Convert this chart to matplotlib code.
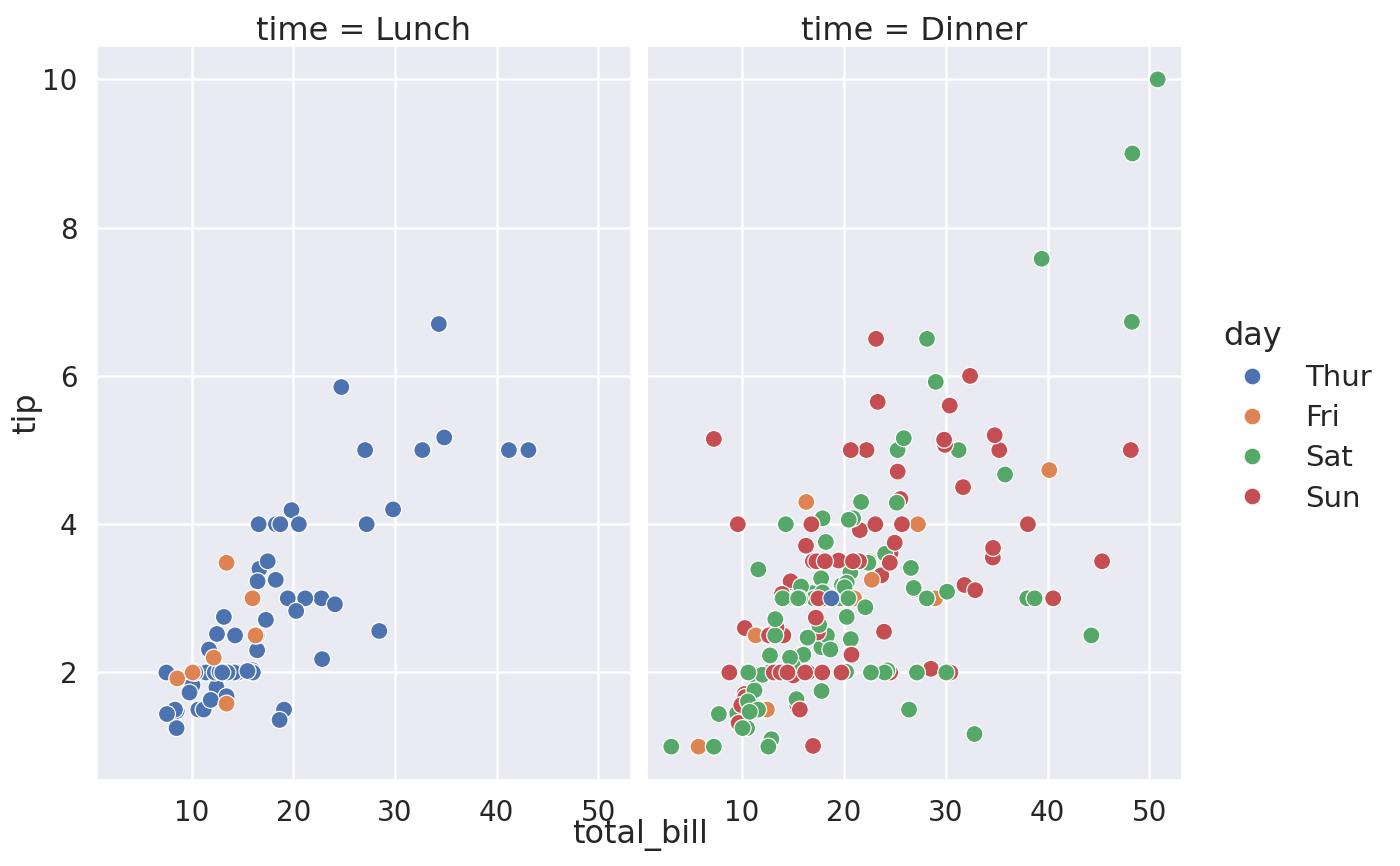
import matplotlib
matplotlib.use('Agg')
import matplotlib.pyplot as plt
from matplotlib.lines import Line2D
import seaborn as sns

# tips data, in row order (draw order matters for overlap)
total_bill = [
    16.99, 10.34, 21.01, 23.68, 24.59, 25.29, 8.77, 26.88, 15.04, 14.78,
    10.27, 35.26, 15.42, 18.43, 14.83, 21.58, 10.33, 16.29, 16.97, 20.65,
    17.92, 20.29, 15.77, 39.42, 19.82, 17.81, 13.37, 12.69, 21.70, 19.65,
    9.55, 18.35, 15.06, 20.69, 17.78, 24.06, 16.31, 16.93, 18.69, 31.27,
    16.04, 17.46, 13.94, 9.68, 30.40, 18.29, 22.23, 32.40, 28.55, 18.04,
    12.54, 10.29, 34.81, 9.94, 25.56, 19.49, 38.01, 26.41, 11.24, 48.27,
    20.29, 13.81, 11.02, 18.29, 17.59, 20.08, 16.45, 3.07, 20.23, 15.01,
    12.02, 17.07, 26.86, 25.28, 14.73, 10.51, 17.92, 27.20, 22.76, 17.29,
    19.44, 16.66, 10.07, 32.68, 15.98, 34.83, 13.03, 18.28, 24.71, 21.16,
    28.97, 22.49, 5.75, 16.32, 22.75, 40.17, 27.28, 12.03, 21.01, 12.46,
    11.35, 15.38, 44.30, 22.42, 20.92, 15.36, 20.49, 25.21, 18.24, 14.31,
    14.00, 7.25, 38.07, 23.95, 25.71, 17.31, 29.93, 10.65, 12.43, 24.08,
    11.69, 13.42, 14.26, 15.95, 12.48, 29.80, 8.52, 14.52, 11.38, 22.82,
    19.08, 20.27, 11.17, 12.26, 18.26, 8.51, 10.33, 14.15, 16.00, 13.16,
    17.47, 34.30, 41.19, 27.05, 16.43, 8.35, 18.64, 11.87, 9.78, 7.51,
    14.07, 13.13, 17.26, 24.55, 19.77, 29.85, 48.17, 25.00, 13.39, 16.49,
    21.50, 12.66, 16.21, 13.81, 17.51, 24.52, 20.76, 31.71, 10.59, 10.63,
    50.81, 15.81, 7.25, 31.85, 16.82, 32.90, 17.89, 14.48, 9.60, 34.63,
    34.65, 23.33, 45.35, 23.17, 40.55, 20.69, 20.90, 30.46, 18.15, 23.10,
    15.69, 19.81, 28.44, 15.48, 16.58, 7.56, 10.34, 43.11, 13.00, 13.51,
    18.71, 12.74, 13.00, 16.40, 20.53, 16.47, 26.59, 38.73, 24.27, 12.76,
    30.06, 25.89, 48.33, 13.27, 28.17, 12.90, 28.15, 11.59, 7.74, 30.14,
    12.16, 13.42, 8.58, 15.98, 13.42, 16.27, 10.09, 20.45, 13.28, 22.12,
    24.01, 15.69, 11.61, 10.77, 15.53, 10.07, 12.60, 32.83, 35.83, 29.03,
    27.18, 22.67, 17.82, 18.78,
]
tip = [
    1.01, 1.66, 3.50, 3.31, 3.61, 4.71, 2.00, 3.12, 1.96, 3.23,
    1.71, 5.00, 1.57, 3.00, 3.02, 3.92, 1.67, 3.71, 3.50, 3.35,
    4.08, 2.75, 2.23, 7.58, 3.18, 2.34, 2.00, 2.00, 4.30, 3.00,
    1.45, 2.50, 3.00, 2.45, 3.27, 3.60, 2.00, 3.07, 2.31, 5.00,
    2.24, 2.54, 3.06, 1.32, 5.60, 3.00, 5.00, 6.00, 2.05, 3.00,
    2.50, 2.60, 5.20, 1.56, 4.34, 3.51, 3.00, 1.50, 1.76, 6.73,
    3.21, 2.00, 1.98, 3.76, 2.64, 3.15, 2.47, 1.00, 2.01, 2.09,
    1.97, 3.00, 3.14, 5.00, 2.20, 1.25, 3.08, 4.00, 3.00, 2.71,
    3.00, 3.40, 1.83, 5.00, 2.03, 5.17, 2.00, 4.00, 5.85, 3.00,
    3.00, 3.50, 1.00, 4.30, 3.25, 4.73, 4.00, 1.50, 3.00, 1.50,
    2.50, 3.00, 2.50, 3.48, 4.08, 1.64, 4.06, 4.29, 3.76, 4.00,
    3.00, 1.00, 4.00, 2.55, 4.00, 3.50, 5.07, 1.50, 1.80, 2.92,
    2.31, 1.68, 2.50, 2.00, 2.52, 4.20, 1.48, 2.00, 2.00, 2.18,
    1.50, 2.83, 1.50, 2.00, 3.25, 1.25, 2.00, 2.00, 2.00, 2.75,
    3.50, 6.70, 5.00, 5.00, 2.30, 1.50, 1.36, 1.63, 1.73, 2.00,
    2.50, 2.00, 2.74, 2.00, 2.00, 5.14, 5.00, 3.75, 2.61, 2.00,
    3.50, 2.50, 2.00, 2.00, 3.00, 3.48, 2.24, 4.50, 1.61, 2.00,
    10.00, 3.16, 5.15, 3.18, 4.00, 3.11, 2.00, 2.00, 4.00, 3.55,
    3.68, 5.65, 3.50, 6.50, 3.00, 5.00, 3.50, 2.00, 3.50, 4.00,
    1.50, 4.19, 2.56, 2.02, 4.00, 1.44, 2.00, 5.00, 2.00, 2.00,
    4.00, 2.01, 2.00, 2.50, 4.00, 3.23, 3.41, 3.00, 2.03, 2.23,
    2.00, 5.16, 9.00, 2.50, 6.50, 1.10, 3.00, 1.50, 1.44, 3.09,
    2.20, 3.48, 1.92, 3.00, 1.58, 2.50, 2.00, 3.00, 2.72, 2.88,
    2.00, 3.00, 3.39, 1.47, 3.00, 1.25, 1.00, 1.17, 4.67, 5.92,
    2.00, 2.00, 1.75, 3.00,
]
# (day, time, number of consecutive rows)
day_time_runs = [
    ('Sun', 'Dinner', 19), ('Sat', 'Dinner', 22), ('Sun', 'Dinner', 15),
    ('Sat', 'Dinner', 21), ('Thur', 'Lunch', 13), ('Fri', 'Dinner', 12),
    ('Sat', 'Dinner', 10), ('Sun', 'Dinner', 5), ('Thur', 'Lunch', 33),
    ('Sun', 'Dinner', 18), ('Sat', 'Dinner', 4), ('Sun', 'Dinner', 19),
    ('Thur', 'Lunch', 15), ('Sat', 'Dinner', 14), ('Fri', 'Lunch', 7),
    ('Sat', 'Dinner', 16), ('Thur', 'Dinner', 1),
]
days = ['Thur', 'Fri', 'Sat', 'Sun']
times = ['Lunch', 'Dinner']

day = [d for d, t, n in day_time_runs for _ in range(n)]
time = [t for d, t, n in day_time_runs for _ in range(n)]

sns.set_theme(style='darkgrid')
plt.rcParams['font.family'] = ['DejaVu Sans']
plt.rcParams['grid.linewidth'] = 1.8
palette = dict(zip(days, sns.color_palette('deep', 4)))

LABEL_FS = 23
TICK_FS = 20
LEGEND_FS = 21

fig = plt.figure(figsize=(14, 8.66), dpi=100)
axes = [fig.add_axes([0.0693, 0.0993, 0.3814, 0.8476])]
axes.append(fig.add_axes([0.4621, 0.0993, 0.3822, 0.8476],
                         sharex=axes[0], sharey=axes[0]))

for ax, t in zip(axes, times):
    idx = [i for i in range(len(time)) if time[i] == t]
    ax.scatter([total_bill[i] for i in idx], [tip[i] for i in idx],
               c=[palette[day[i]] for i in idx], s=150,
               edgecolor='white', linewidth=0.9)
    ax.set_title('time = %s' % t, fontsize=LABEL_FS, color='.15', pad=4)
    ax.tick_params(labelsize=TICK_FS, pad=8, colors='.15')

axes[0].set_xticks([10, 20, 30, 40, 50])
axes[0].set_yticks([2, 4, 6, 8, 10])
axes[1].tick_params(labelleft=False)

fig.text(0.457, 0.036, 'total_bill', ha='center', va='center',
         fontsize=LABEL_FS, color='.15')
fig.text(0.019, 0.523, 'tip', ha='center', va='center', rotation=90,
         fontsize=LABEL_FS, color='.15')

handles = [Line2D([], [], marker='o', ls='', markersize=12.2,
                  markerfacecolor=palette[d], markeredgecolor='white',
                  markeredgewidth=0.9) for d in days]
leg = fig.legend(handles, days, title='day', loc='center left',
                 bbox_to_anchor=(0.855, 0.519), frameon=False,
                 fontsize=LEGEND_FS, title_fontsize=LABEL_FS,
                 labelspacing=0.42)
leg._legend_box.align = 'left'

fig.savefig('out.png', dpi=100)
